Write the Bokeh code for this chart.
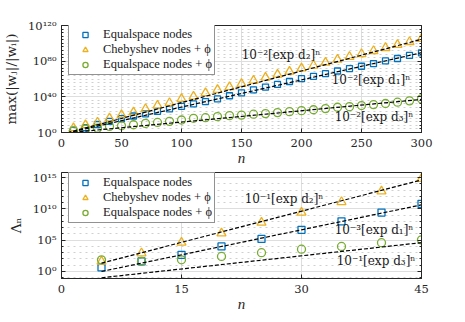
from bokeh.plotting import figure
from bokeh.layouts import column
from bokeh.models import (FixedTicker, LogAxis, Range1d, Legend, LegendItem,
                          CustomJSTickFormatter)
from bokeh.embed import file_html
from bokeh.resources import INLINE
from bokeh.core.properties import value

FONT = "Liberation Serif"
MFONT = "DejaVu Serif"
BLUE = "#0072BD"
ORANGE = "#EDB120"
GREEN = "#77AC30"

# ---------------- data (log10 of the plotted quantities) ----------------
n_top = list(range(10, 301, 10))
top_equal_exp = [2.5, 5.3, 9.0, 12.5, 15.5, 18.5, 21.0, 23.6, 26.4, 29.4,
                 32.0, 34.7, 37.7, 41.2, 44.5, 47.9, 50.9, 53.9, 57.2, 60.4,
                 63.0, 66.0, 69.0, 71.7, 74.3, 77.3, 80.3, 83.0, 86.4, 89.4]
top_cheb_exp = [4.9, 8.3, 11.3, 15.9, 19.6, 22.6, 26.4, 30.2, 33.2, 37.7,
                40.4, 44.2, 47.9, 51.0, 54.6, 58.2, 61.6, 65.0, 68.3, 72.0,
                75.2, 78.5, 81.8, 85.0, 88.1, 91.5, 94.9, 98.3, 101.6, 105.0]
top_equal_phi_exp = [1.9, 3.8, 4.9, 6.8, 7.5, 8.7, 10.2, 11.3, 12.5, 14.0,
                     15.9, 16.6, 17.8, 18.9, 19.5, 20.5, 21.2, 22.3, 23.4, 24.5,
                     25.5, 26.8, 28.3, 29.0, 30.2, 31.3, 32.5, 34.0, 35.5, 37.7]
# fitted lines: log10(C) + slope * n
top_fit_logC = [-2.0, -2.0, -1.0]
top_fit_slope = [0.305, 0.355, 0.127]
top_fit_n = [0, 300]
top_fit_labels = ["10⁻²[exp d₁]ⁿ", "10⁻²[exp d₂]ⁿ", "10⁻²[exp d₃]ⁿ"]

n_bot = [5, 10, 15, 20, 25, 30, 35, 40, 45]
bot_equal_exp = [0.64, 1.6, 2.66, 4.0, 5.2, 6.65, 8.0, 9.4, 10.8]
bot_cheb_exp = [1.6, 2.92, 4.63, 6.1, 7.8, 9.4, 11.1, 12.8, 14.8]
bot_equal_phi_exp = [1.86, 1.6, 1.86, 2.4, 3.0, 3.56, 4.0, 4.6, 5.05]
bot_fit_logC = [-1.33, -0.33, -1.7]
bot_fit_slope = [0.266, 0.332, 0.14]
bot_fit_n = [5, 45]
bot_fit_labels = ["10⁻³[exp d₁]ⁿ", "10⁻¹[exp d₂]ⁿ", "10⁻¹[exp d₃]ⁿ"]

series_names = ["Equalspace nodes", "Chebyshev nodes + ϕ", "Equalspace nodes + ϕ"]

top_xticks = [0, 50, 100, 150, 200, 250, 300]
top_ytick_exp = [0, 40, 80, 120]
top_ytick_labels = ["10⁰", "10⁴⁰", "10⁸⁰", "10¹²⁰"]
bot_xticks = [0, 15, 30, 45]
bot_ytick_exp = [0, 5, 10, 15]
bot_ytick_labels = ["10⁰", "10⁵", "10¹⁰", "10¹⁵"]

# annotation placement: right end of each label (data coords: n, log10 y)
top_annot_pos = [(290.8, 58.9), (215.8, 87.2), (293.3, 17.0)]
bot_annot_pos = [(44.0, 6.7), (32.75, 11.6), (44.25, 1.75)]


def pw(e):
    return [10.0 ** v for v in e]


def style(p, xticks, ytick_exp, ytick_labels, minor_exp, ylabel):
    p.xaxis.ticker = FixedTicker(ticks=xticks)
    yt = FixedTicker(ticks=pw(ytick_exp), minor_ticks=pw(minor_exp))
    p.yaxis.ticker = yt
    p.yaxis.major_label_overrides = {10.0 ** e: l for e, l in zip(ytick_exp, ytick_labels)}
    for ax in p.axis:
        ax.major_label_text_font = MFONT
        ax.major_label_text_font_size = "11.5px"
        ax.major_label_text_color = "#262626"
        ax.axis_label_text_font = MFONT
        ax.axis_label_text_color = "#262626"
        ax.axis_line_color = "#262626"
        ax.major_tick_in = 4
        ax.major_tick_out = 0
        ax.minor_tick_in = 2
        ax.minor_tick_out = 0
        ax.major_tick_line_color = "#262626"
        ax.minor_tick_line_color = "#262626"
    p.xaxis.minor_tick_line_color = None
    p.xaxis.axis_label = "n"
    p.xaxis.axis_label_text_font = FONT
    p.xaxis.axis_label_text_font_style = "italic"
    p.xaxis.axis_label_text_font_size = "15px"
    p.xaxis.major_label_standoff = 6
    p.xaxis.axis_label_standoff = 0
    p.yaxis.axis_label = ylabel
    p.yaxis.axis_label_text_font_style = "normal"
    p.yaxis.axis_label_text_font_size = "13.5px"
    p.yaxis.major_label_standoff = 5
    p.yaxis.axis_label_standoff = 6
    p.xgrid.grid_line_color = "#dedede"
    p.ygrid.grid_line_color = "#dedede"
    p.ygrid.minor_grid_line_color = "#d0d0d0"
    p.ygrid.minor_grid_line_dash = "dotted"
    p.outline_line_color = "#262626"
    p.outline_line_width = 1
    right = LogAxis(ticker=yt, formatter=CustomJSTickFormatter(code="return ''"),
                    major_tick_in=4, major_tick_out=0, minor_tick_in=2, minor_tick_out=0,
                    major_label_standoff=0, axis_line_color="#262626",
                    major_tick_line_color="#262626", minor_tick_line_color="#262626")
    p.add_layout(right, "right")


def draw(p, n, eq, ch, eqp, fit_n, fit_c, fit_s, labels, pos, sizes):
    r1 = p.scatter(n, pw(eq), marker="square", size=sizes[0], fill_color=None,
                   line_color=BLUE, line_width=1.3)
    r2 = p.scatter(n, pw(ch), marker="triangle", size=sizes[1], fill_color=None,
                   line_color=ORANGE, line_width=1.3)
    r3 = p.scatter(n, pw(eqp), marker="circle", size=sizes[2], fill_color=None,
                   line_color=GREEN, line_width=1.3)
    for c, s in zip(fit_c, fit_s):
        p.line(fit_n, [10.0 ** (c + s * v) for v in fit_n], line_color="black",
               line_dash="4 2", line_width=1.2)
    p.text(x=[q[0] for q in pos], y=[10.0 ** q[1] for q in pos], text=labels,
           text_font=value(MFONT), text_font_size="12px", text_color="#1a1a1a",
           text_baseline="middle", text_align="right")
    return [r1, r2, r3]


def add_legend(p, rends, loc):
    leg = Legend(items=[LegendItem(label=nm, renderers=[r]) for nm, r in zip(series_names, rends)],
                 location=loc, label_text_font=FONT, label_text_font_size="12.5px",
                 label_height=13, glyph_height=13, glyph_width=28, label_standoff=4,
                 spacing=0, padding=2, border_line_color="#262626", border_line_width=1,
                 background_fill_alpha=1.0, label_text_color="#1a1a1a")
    p.add_layout(leg, "center")


top_minor = [e for e in range(0, 121, 4) if e not in top_ytick_exp]
bot_minor = [e for e in range(-1, 16) if e not in bot_ytick_exp]

p1 = figure(frame_width=360, frame_height=107, x_range=Range1d(0, 300),
            y_range=Range1d(1.0, 1e120), y_axis_type="log", title=None,
            output_backend="svg", toolbar_location=None,
            min_border_left=52, min_border_right=37, min_border_top=25, min_border_bottom=30)
style(p1, top_xticks, top_ytick_exp, top_ytick_labels, top_minor, "max(|wⱼ|/|wᵢ|)")
r_top = draw(p1, n_top, top_equal_exp, top_cheb_exp, top_equal_phi_exp,
             top_fit_n, top_fit_logC, top_fit_slope, top_fit_labels, top_annot_pos, (6, 9, 8))
add_legend(p1, r_top, (7, 57))

p2 = figure(frame_width=360, frame_height=106, x_range=Range1d(0, 45),
            y_range=Range1d(10 ** -1.12, 10 ** 15.8), y_axis_type="log", title=None,
            output_backend="svg", toolbar_location=None,
            min_border_left=52, min_border_right=37, min_border_top=4, min_border_bottom=30)
style(p2, bot_xticks, bot_ytick_exp, bot_ytick_labels, bot_minor, "Λₙ")
r_bot = draw(p2, n_bot, bot_equal_exp, bot_cheb_exp, bot_equal_phi_exp,
             bot_fit_n, bot_fit_logC, bot_fit_slope, bot_fit_labels, bot_annot_pos, (7, 9, 8))
add_legend(p2, r_bot, (7, 55))

layout = column(p1, p2)
open("out.html", "w").write(file_html(layout, INLINE))
